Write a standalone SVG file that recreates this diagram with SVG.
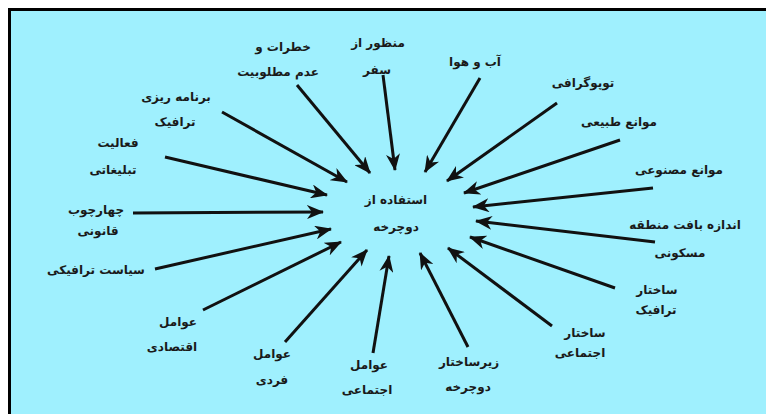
<svg xmlns="http://www.w3.org/2000/svg" width="766" height="414" viewBox="0 0 766 414">
<defs>
<marker id="ah" markerUnits="userSpaceOnUse" markerWidth="18" markerHeight="14" refX="16" refY="7" orient="auto">
<path d="M0,0 L17,7 L0,14 L5,7 z" fill="#111"/>
</marker>
<style>
.t{font-family:"DejaVu Sans",sans-serif;font-size:12px;font-weight:bold;fill:#1a1a1a;text-anchor:middle;dominant-baseline:central}
.c line{stroke:#111;stroke-width:3;marker-end:url(#ah)}
</style>
</defs>
<rect x="0" y="0" width="766" height="414" fill="#ffffff"/>
<rect x="8" y="8" width="758" height="406" fill="#9ff0fe"/>
<rect x="8" y="8" width="758" height="3" fill="#000"/>
<rect x="8" y="8" width="3" height="406" fill="#000"/>
<g id="connectors" class="c">
<line x1="383" y1="75" x2="395" y2="170"/>
<line x1="297" y1="85" x2="370" y2="173"/>
<line x1="480" y1="78" x2="425" y2="172"/>
<line x1="557" y1="103" x2="447" y2="181"/>
<line x1="620" y1="140" x2="464" y2="193"/>
<line x1="653" y1="188" x2="473" y2="207"/>
<line x1="655" y1="242" x2="476" y2="221"/>
<line x1="615" y1="288" x2="470" y2="237"/>
<line x1="552" y1="326" x2="448" y2="248"/>
<line x1="468" y1="347" x2="420" y2="253"/>
<line x1="373" y1="353" x2="389" y2="256"/>
<line x1="285" y1="342" x2="367" y2="250"/>
<line x1="203" y1="310" x2="341" y2="242"/>
<line x1="155" y1="269" x2="331" y2="229"/>
<line x1="133" y1="213" x2="323" y2="212"/>
<line x1="165" y1="157" x2="327" y2="195"/>
<line x1="222" y1="112" x2="347" y2="182"/>
</g>
<g id="center"><text class="t" x="396" y="200">استفاده از</text><text class="t" x="396" y="227">دوچرخه</text></g>
<g id="n1"><text class="t" x="378" y="43">منظور از</text><text class="t" x="377" y="70">سفر</text></g>
<g id="n2"><text class="t" x="283" y="47">خطرات و</text><text class="t" x="278" y="72">عدم مطلوبیت</text></g>
<g id="n3"><text class="t" x="475" y="62">آب و هوا</text></g>
<g id="n4"><text class="t" x="583" y="83">توپوگرافی</text></g>
<g id="n5"><text class="t" x="619" y="122">موانع طبیعی</text></g>
<g id="n6"><text class="t" x="679" y="170">موانع مصنوعی</text></g>
<g id="n7"><text class="t" x="685" y="225">اندازه بافت منطقه</text><text class="t" x="680" y="253">مسکونی</text></g>
<g id="n8"><text class="t" x="657" y="290">ساختار</text><text class="t" x="656" y="310">ترافیک</text></g>
<g id="n9"><text class="t" x="585" y="333">ساختار</text><text class="t" x="580" y="353">اجتماعی</text></g>
<g id="n10"><text class="t" x="469" y="362">زیرساختار</text><text class="t" x="468" y="387">دوچرخه</text></g>
<g id="n11"><text class="t" x="369" y="365">عوامل</text><text class="t" x="367" y="390">اجتماعی</text></g>
<g id="n12"><text class="t" x="272" y="354">عوامل</text><text class="t" x="272" y="380">فردی</text></g>
<g id="n13"><text class="t" x="178" y="322">عوامل</text><text class="t" x="172" y="347">اقتصادی</text></g>
<g id="n14"><text class="t" x="96" y="270">سیاست ترافیکی</text></g>
<g id="n15"><text class="t" x="96" y="210">چهارچوب</text><text class="t" x="98" y="231">قانونی</text></g>
<g id="n16"><text class="t" x="118" y="143">فعالیت</text><text class="t" x="113" y="170">تبلیغاتی</text></g>
<g id="n17"><text class="t" x="176" y="97">برنامه ریزی</text><text class="t" x="175" y="122">ترافیک</text></g>
</svg>
